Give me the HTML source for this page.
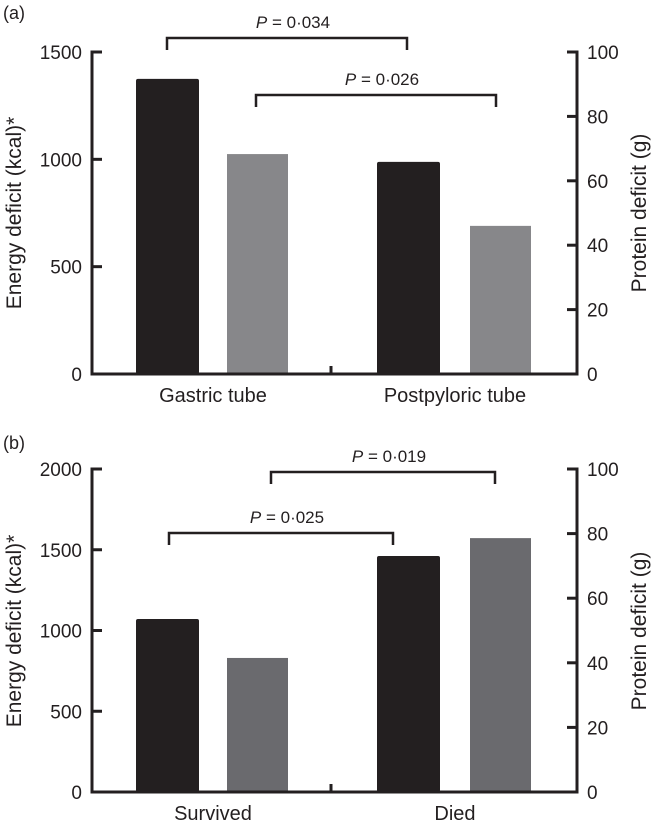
<!DOCTYPE html>
<html><head><meta charset="utf-8"><style>
html,body{margin:0;padding:0;background:#fff}
svg{display:block}
text{font-family:"Liberation Sans",Arial,sans-serif;fill:#231f20}
</style></head><body>
<svg id="fig" width="651" height="822" viewBox="0 0 651 822" xmlns="http://www.w3.org/2000/svg"></svg>
<script>
// Panel (a) data
const catsA = ["Gastric tube", "Postpyloric tube"];
const energyA = [1375, 988];
const proteinA = [68.3, 46];
const leftTicksA = [0, 500, 1000, 1500];
const rightTicksA = [0, 20, 40, 60, 80, 100];
const pLabelsA = ["0·034", "0·026"];
// Panel (b) data
const catsB = ["Survived", "Died"];
const energyB = [1071, 1461];
const proteinB = [41.5, 78.6];
const leftTicksB = [0, 500, 1000, 1500, 2000];
const rightTicksB = [0, 20, 40, 60, 80, 100];
const pLabelsB = ["0·025", "0·019"];

const svg = document.getElementById('fig');
const NS = "http://www.w3.org/2000/svg";
function mk(tag, attrs, parent) {
  const e = document.createElementNS(NS, tag);
  for (const k in attrs) e.setAttribute(k, attrs[k]);
  (parent || svg).appendChild(e);
  return e;
}
function txt(s, x, y, size, anchor, parent) {
  const t = mk('text', {x: x, y: y, 'font-size': size, 'text-anchor': anchor || 'middle'}, parent);
  t.textContent = s;
  return t;
}

function panel(o) {
  const g = mk('g', {});
  
  
  const L = 92, R = 577;
  const yE = v => o.y0 - v / o.eMax * (o.y0 - o.yTop);
  const yP = v => o.y0 - v / 100 * (o.y0 - o.yTop);
  const lbl = txt(o.tag, 3, o.tagY, 18, 'start', g);
  
  
  const blackX = [136, 377], grayX = [227, 470];
  for (let i = 0; i < o.cats.length; i++) {
    const b = mk('rect', {x: blackX[i], y: yE(o.energy[i]), width: 63, height: o.y0 - yE(o.energy[i]), fill: '#231f20', rx: 2}, g);
    
    
    const p = mk('rect', {x: grayX[i], y: yP(o.protein[i]), width: 61, height: o.y0 - yP(o.protein[i]), fill: o.gray}, g);
    
    
    const c = txt(o.cats[i], [213, 455][i], o.y0 + 28, 20, 'middle', g);
    
    
  }
  const ax = mk('path', {d: `M${L+10},${o.yTop}H${L}V${o.y0}H${R}V${o.yTop}H${R-10}`, fill: 'none', stroke: '#231f20', 'stroke-width': 3}, g);
  
  
  mk('line', {x1: 331, x2: 331, y1: o.y0 - 8, y2: o.y0, stroke: '#231f20', 'stroke-width': 3}, g);
  for (const t of o.lt) {
    const y = yE(t);
    mk('line', {x1: L, x2: L + 10, y1: y, y2: y, stroke: '#231f20', 'stroke-width': 3}, g);
    const e = txt(String(t), 82, y + 7, 19, 'end', g);
    
    
  }
  for (const t of o.rt) {
    const y = yP(t);
    mk('line', {x1: R - 10, x2: R, y1: y, y2: y, stroke: '#231f20', 'stroke-width': 3}, g);
    const e = txt(String(t), 587, y + 7, 19, 'start', g);
    
    
  }
  const lt = txt('Energy deficit (kcal)*', 0, 0, 21, 'middle', g);
  lt.setAttribute('transform', `translate(21,${o.y0 - 161}) rotate(-90)`);
  
  
  const rtt = txt('Protein deficit (g)', 0, 0, 21, 'middle', g);
  rtt.setAttribute('transform', `translate(646,${o.y0 - 161}) rotate(-90)`);
  
  
  for (let i = 0; i < 2; i++) {
    const br = o.br[i];
    const p = mk('path', {d: `M${br[0]},${br[2]+12}V${br[2]}H${br[1]}V${br[2]+12}`, fill: 'none', stroke: '#231f20', 'stroke-width': 2.5}, g);
    
    
    const t = mk('text', {x: (br[0] + br[1]) / 2 + 6, y: br[2] - 10, 'font-size': 17, 'text-anchor': 'middle'}, g);
    
    
    const it = mk('tspan', {'font-style': 'italic'}, t); it.textContent = 'P';
    const rest = mk('tspan', {}, t); rest.textContent = ' = ' + o.p[i];
  }
}
panel({name: 'panel-a', tag: '(a)', tagY: 19, y0: 374, yTop: 52, eMax: 1500, cats: catsA, energy: energyA, protein: proteinA, lt: leftTicksA, rt: rightTicksA, gray: '#87878a', p: pLabelsA, br: [[167, 407, 38], [256, 496, 95]]});
panel({name: 'panel-b', tag: '(b)', tagY: 449, y0: 792, yTop: 469, eMax: 2000, cats: catsB, energy: energyB, protein: proteinB, lt: leftTicksB, rt: rightTicksB, gray: '#6a6a6e', p: pLabelsB, br: [[169, 393, 533], [271, 495, 472]]});
</script>
</body></html>
